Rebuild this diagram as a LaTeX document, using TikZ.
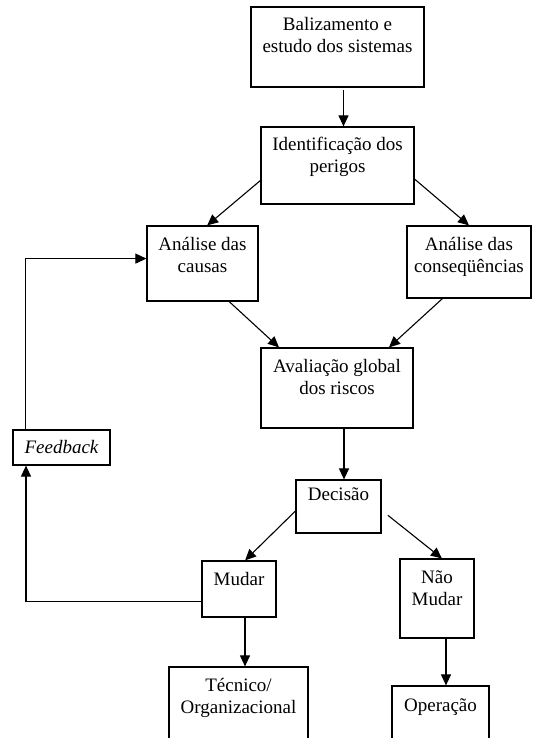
\documentclass[tikz,border=0pt]{standalone}
\usepackage{fontspec}
\setmainfont{Liberation Serif}
\usepackage{tikz}
\usetikzlibrary{arrows.meta,positioning}
% texto no topo da caixa
\newcommand{\caixatxt}[4][24pt]{\parbox[t][#3][t]{#2}{\centering\rule{0pt}{#1}#4}}
\tikzset{
    %Define standard arrow tip
    >={Triangle[length=11pt,width=10pt]},
    %Define style for boxes
    caixa/.style={
           rectangle,
           draw=black, line width=1.2pt,
           inner sep=0pt,
           font=\fontsize{19}{22}\selectfont},
    fbcaixa/.style={
           rectangle,
           draw=black, line width=1.2pt,
           minimum width=97pt,
           minimum height=35pt,
           inner sep=0pt,
           font=\fontsize{19}{22}\selectfont\itshape},
    % Define arrow style
    seta/.style={
           ->,
           line width=1.1pt},
}
\begin{document}
\begin{tikzpicture}[x=1pt,y=-1pt]
\useasboundingbox (0,0) rectangle (534,738);
\clip (0,0) rectangle (534,738);

 %nodes
\node[caixa](baliz) at (337.5,47){\caixatxt{173pt}{80pt}{Balizamento e\\estudo dos sistemas}};
\node[caixa](ident) at (337.5,165.5){\caixatxt{153pt}{77pt}{Identificação dos\\perigos}};
\node[caixa](causas) at (202.5,263.5){\caixatxt{111pt}{75pt}{Análise das\\causas}};
\node[caixa](conseq) at (469,262){\caixatxt{124pt}{72pt}{Análise das\\conseqüências}};
\node[caixa](aval) at (337,388){\caixatxt{152pt}{80pt}{Avaliação global\\dos riscos}};
\node[fbcaixa](fb) at (61.5,447.5){Feedback};
\node[caixa](decisao) at (338.5,506.5){\caixatxt[20pt]{85pt}{53pt}{Decisão}};
\node[caixa](mudar) at (239,589){\caixatxt{74pt}{56pt}{Mudar}};
\node[caixa](naomudar) at (437,598.5){\caixatxt{74pt}{79pt}{Não\\Mudar}};
\node[caixa](tecnico) at (238.5,713.5){\caixatxt{139pt}{93pt}{Técnico/\\Organizacional}};
\node[caixa](operacao) at (440.5,723){\caixatxt[25pt]{97pt}{74pt}{Operação}};

 %arrows
\draw[seta] ([xshift=6pt,yshift=-2pt]baliz.south) -- ([xshift=6pt]ident.north);
\draw[seta] (ident.191) -- (causas.83);
\draw[seta] (ident.-10) -- (conseq.north);
\draw[seta] (causas.-55) -- (aval.145);
\draw[seta] (conseq.234) -- (aval.38);
\draw[seta] ([xshift=7pt]aval.south) -- ([xshift=5.5pt]decisao.north);
\draw[seta] (decisao.186) -- (mudar.78);
\draw[seta, shorten <=8pt] (decisao.-5) -- (naomudar.83);
\draw[seta] ([xshift=6pt]mudar.south) -- ([xshift=6.5pt]tecnico.north);
\draw[seta] ([xshift=9pt]naomudar.south) -- ([xshift=5.5pt]operacao.north);
\draw[seta] (mudar.198) -| ([xshift=-35.5pt]fb.south);
\draw[seta] ([xshift=-36pt]fb.north) |- (causas.175);

\end{tikzpicture}
\end{document}
